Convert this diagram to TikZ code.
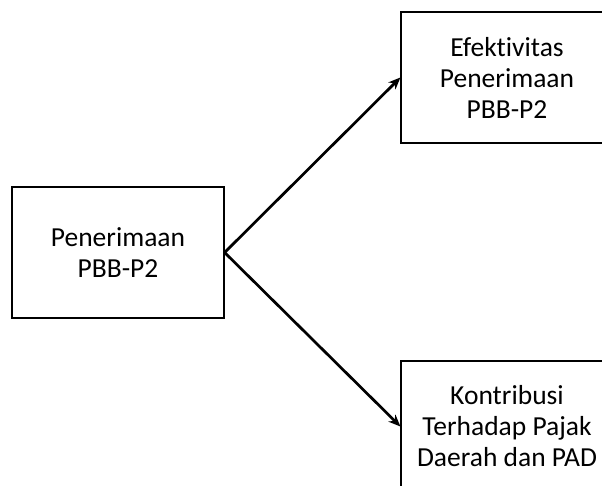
\documentclass[tikz,border=0pt]{standalone}
\usepackage{fontspec}
\setmainfont[Ligatures={NoCommon}]{Carlito}
\usetikzlibrary{arrows.meta}
\begin{document}
\begin{tikzpicture}[x=1pt,y=-1pt,
  kotak/.style={draw,line width=1.2pt,minimum width=212pt,minimum height=131pt,
    align=center,inner sep=0pt,font=\fontsize{27.5}{31}\selectfont},
  panah/.style={draw,line width=2.7pt,-{Stealth[length=12pt,width=10pt]}}]
\useasboundingbox (0,0) rectangle (602,486);
\clip (0,0) rectangle (602,486);
\node[kotak] (terima) at (118,252.5) {Penerimaan\\PBB-P2};
\node[kotak] (efektif) at (507,77.5) {Efektivitas\\Penerimaan\\PBB-P2};
\node[kotak] (kontrib) at (507,426.5) {Kontribusi\\Terhadap Pajak\\Daerah dan PAD};

\path[panah] (terima.east) -- (efektif.west);
\path[panah] (terima.east) -- (kontrib.west);
\end{tikzpicture}
\end{document}
